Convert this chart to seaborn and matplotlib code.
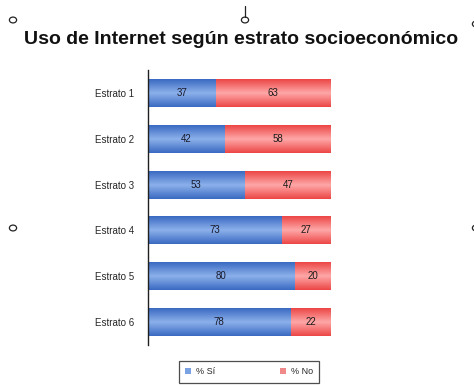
import numpy as np
import pandas as pd
import matplotlib
matplotlib.use("Agg")
import matplotlib.pyplot as plt
import seaborn as sns
from matplotlib.patches import Patch, Circle
from matplotlib.lines import Line2D
from matplotlib.colors import LinearSegmentedColormap

estratos = ["Estrato 1", "Estrato 2", "Estrato 3", "Estrato 4", "Estrato 5", "Estrato 6"]
pct_si = [37, 42, 53, 73, 80, 78]
pct_no = [63, 58, 47, 27, 20, 22]
series_labels = ["% Sí", "% No"]

df = pd.DataFrame({"estrato": estratos, "si": pct_si, "no": pct_no})
df["total"] = df["si"] + df["no"]

sns.set_style("white")
plt.rcParams["font.family"] = ["Liberation Sans", "DejaVu Sans"]

fig = plt.figure(figsize=(4.74, 3.85), dpi=100)
ax = fig.add_axes([0.312, 0.104, 0.386, 0.714])

blue = "#4f82d6"
red = "#f25c5c"

# stacked horizontal bars: full length in red, "Sí" share drawn over it in blue
sns.barplot(data=df, x="total", y="estrato", order=estratos, color=red,
            width=0.61, saturation=1, ax=ax, orient="h")
sns.barplot(data=df, x="si", y="estrato", order=estratos, color=blue,
            width=0.61, saturation=1, ax=ax, orient="h")

# soft vertical gradient on each bar segment
cm_blue = LinearSegmentedColormap.from_list("b", ["#3a6ac2", "#8cb0ea", "#3a6ac2"])
cm_red = LinearSegmentedColormap.from_list("r", ["#ec4646", "#ffa8a8", "#ec4646"])
grad = np.linspace(0, 1, 64).reshape(-1, 1)
patches = list(ax.patches)
n = len(estratos)
for i, p in enumerate(patches):
    cmap = cm_red if i < n else cm_blue
    x0, y0 = p.get_x(), p.get_y()
    w, h = p.get_width(), p.get_height()
    im = ax.imshow(grad, cmap=cmap, aspect="auto", extent=[x0, x0 + w, y0 + h, y0],
                   zorder=p.get_zorder() + 0.1 + (0.5 if i >= n else 0))
    im.set_clip_path(p)
    p.set_edgecolor("none")

ax.set_xlim(0, 100)
ax.set_ylim(n - 0.5, -0.5)

# value labels centred in each segment
for i in range(n):
    ax.text(pct_si[i] / 2, i, str(pct_si[i]), ha="center", va="center",
            fontsize=7, color="#1a1a2a", zorder=10)
    ax.text(pct_si[i] + pct_no[i] / 2, i, str(pct_no[i]), ha="center", va="center",
            fontsize=7, color="#1a1a1a", zorder=10)

ax.set_xlabel("")
ax.set_ylabel("")
ax.set_xticks([])
for side in ["top", "right", "bottom"]:
    ax.spines[side].set_visible(False)
ax.spines["left"].set_color("#202020")
ax.spines["left"].set_linewidth(1.0)
ax.tick_params(axis="y", which="major", length=0, pad=10, labelsize=7)
ax.set_yticks(np.arange(-0.5, n, 1.0), minor=True)
ax.tick_params(axis="y", which="minor", length=4, color="#202020", direction="out")

fig.text(0.508, 0.898, "Uso de Internet según estrato socioeconómico",
         ha="center", va="center", fontsize=14, fontweight="bold", color="#111111")

handles = [Patch(facecolor="#7aa2e3", edgecolor="none", label=series_labels[0]),
           Patch(facecolor="#f08a8a", edgecolor="none", label=series_labels[1])]
leg = fig.legend(handles=handles, loc="upper center", bbox_to_anchor=(0.525, 0.062),
                 ncol=2, frameon=True, fontsize=6.5, handlelength=0.7, handleheight=0.7,
                 columnspacing=7.2, borderpad=0.7, borderaxespad=0, fancybox=False,
                 handletextpad=0.5)
leg.get_frame().set_edgecolor("#222222")
leg.get_frame().set_linewidth(0.9)

# selection handles around the chart area
for (cx, cy) in [(13, 20), (245, 20), (13, 228), (476, 24), (476, 228)]:
    fig.patches.append(Circle((cx / 474, 1 - cy / 385), radius=3.6 / 474,
                              transform=fig.transFigure, facecolor="white",
                              edgecolor="#222222", linewidth=0.9))
fig.lines.append(Line2D([245 / 474, 245 / 474], [1 - 6 / 385, 1 - 16.5 / 385],
                        transform=fig.transFigure, color="#222222", linewidth=0.9))

fig.savefig("out.png", dpi=100)
